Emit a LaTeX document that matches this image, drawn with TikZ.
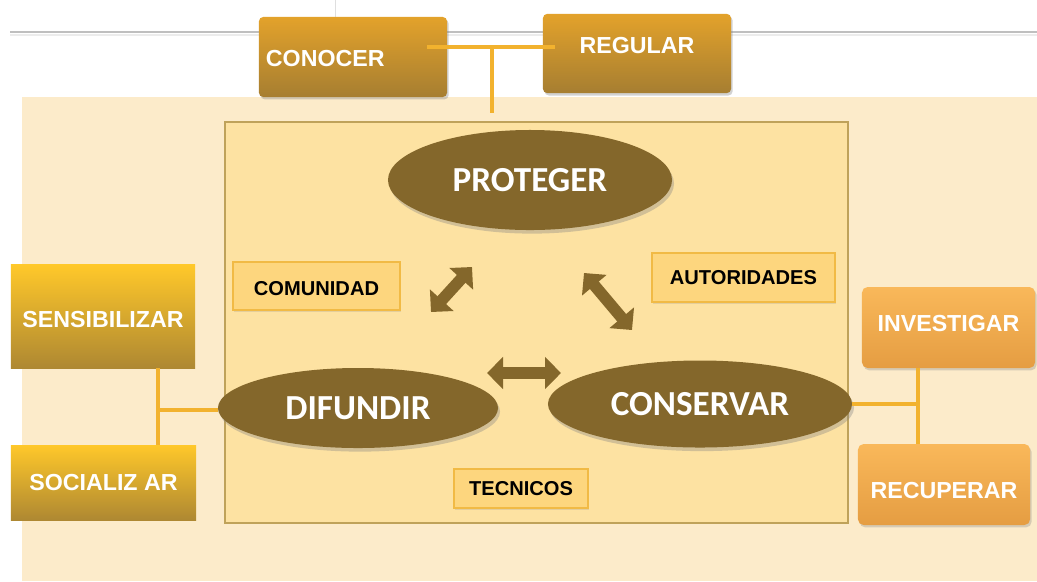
\documentclass[tikz,border=0pt]{standalone}
\usepackage{fontspec}
\setmainfont{Liberation Sans}
\newfontfamily\hubfont{Carlito}
\usetikzlibrary{shapes.geometric, arrows.meta, positioning, calc, shadows}
\definecolor{creamback}{HTML}{FCEBCA}
\definecolor{innerback}{HTML}{FDE2A2}
\definecolor{innerframe}{HTML}{BFA25A}
\definecolor{olive}{HTML}{84672B}
\definecolor{linkgold}{HTML}{F2B22E}
\definecolor{tagfill}{HTML}{FDD67E}
\definecolor{tagframe}{HTML}{F1BA45}
\definecolor{toptop}{HTML}{E3A22B}
\definecolor{topbottom}{HTML}{A67E31}
\definecolor{sidetop}{HTML}{FFC82A}
\definecolor{sidebottom}{HTML}{AE8832}
\definecolor{orangetop}{HTML}{F9B85A}
\definecolor{orangebottom}{HTML}{E59D42}
% baseline of a box text set at a given height from the node centre
\newcommand{\boxtext}[2]{\raisebox{#1}[0pt][0pt]{#2}}
\tikzset{
	topbox/.style={rectangle, rounded corners=3pt, top color=toptop, bottom color=topbottom,
		minimum width=4.7cm, minimum height=2cm, text=white, font=\bfseries\fontsize{16.5}{19}\selectfont,
		drop shadow={shadow xshift=0.4mm, shadow yshift=-0.6mm, opacity=0.35}},
	sidebox/.style={rectangle, top color=sidetop, bottom color=sidebottom,
		text=white, font=\bfseries\fontsize{16.5}{19}\selectfont},
	orangebox/.style={rectangle, rounded corners=4pt, top color=orangetop, bottom color=orangebottom,
		minimum width=4.3cm, minimum height=2.025cm, text=white, font=\bfseries\fontsize{16.5}{19}\selectfont,
		drop shadow={shadow xshift=0.4mm, shadow yshift=-0.6mm, opacity=0.3}},
	tag/.style={rectangle, draw=tagframe, line width=0.8pt, fill=tagfill, text=black,
		font=\bfseries\fontsize{14.3}{17}\selectfont,
		drop shadow={shadow xshift=0.3mm, shadow yshift=-0.4mm, opacity=0.2}},
	hub/.style={ellipse, fill=olive, inner sep=0pt, text=white, font=\hubfont\bfseries\fontsize{25}{28}\selectfont,
		drop shadow={shadow xshift=0.5mm, shadow yshift=-0.9mm, opacity=0.35}},
	link/.style={draw=linkgold, line width=2.6pt},
	bigarrow/.style={draw=olive, line width=0.29cm,
		{Triangle[length=0.4cm, width=0.78cm]}-{Triangle[length=0.4cm, width=0.78cm]}}
}

\begin{document}
\begin{tikzpicture}[x=0.025cm, y=-0.025cm]
	
	\useasboundingbox (0,0) rectangle (1037,581);
	\fill[white] (0,0) rectangle (1037,581);
	
	% page rule behind the top boxes
	\draw[gray!25, line width=0.6pt] (335,0) -- (335,22);
	\draw[gray!50, line width=2pt] (10,32) -- (1037,32);
	\draw[gray!15, line width=1.5pt] (10,35) -- (1037,35);
	
	% Backgrounds
	\fill[creamback] (22,97) rectangle (1037,581);
	\filldraw[fill=innerback, draw=innerframe, line width=0.8pt] (225,122) rectangle (848,523);
	
	% Top boxes
	\node[topbox, text width=4.35cm, inner xsep=0.175cm, align=left] (conocer) at (353,57) {\boxtext{-0.23cm}{CONOCER}};
	\node[topbox, minimum height=1.98cm] (regular) at (637,53.5) {\boxtext{0cm}{REGULAR}};
	
	% Cycle of actions
	\node[hub, minimum width=7.1cm, minimum height=2.5cm] (proteger) at (530,180) {PROTEGER};
	\node[hub, minimum width=7cm, minimum height=2cm] (difundir) at (358,408) {DIFUNDIR};
	\node[hub, minimum width=7.6cm, minimum height=2.175cm] (conservar) at (700,404) {CONSERVAR};
	
	% Actors
	\node[tag, minimum width=4.175cm, minimum height=1.2cm] (comunidad) at (316.5,286) {\boxtext{-0.23cm}{COMUNIDAD}};
	\node[tag, minimum width=4.575cm, minimum height=1.225cm] (autoridades) at (743.5,277.5) {AUTORIDADES};
	\node[tag, minimum width=3.35cm, minimum height=0.975cm] (tecnicos) at (521,488.5) {TECNICOS};
	
	% Left boxes
	\node[sidebox, minimum width=4.6cm, minimum height=2.575cm] (sensibilizar) at (103,316.5) {\boxtext{-0.27cm}{SENSIBILIZAR}};
	\node[sidebox, minimum width=4.625cm, minimum height=1.875cm] (socializar) at (103.5,482.5) {SOCIALIZ AR};
	
	% Right boxes
	\node[orangebox, minimum width=4.325cm] (investigar) at (948.5,327.5) {\boxtext{-0.1cm}{INVESTIGAR}};
	\node[orangebox] (recuperar) at (944,484.5) {\boxtext{-0.35cm}{RECUPERAR}};
	
	% Connectors
	\coordinate (top_joint) at (492,47);
	\coordinate (top_feed) at (492,113);
	\draw[link] ($(conocer.east)+(-20,-10)$) -- ($(regular.west)+(12,-6.5)$);
	\draw[link] (top_joint) -- (top_feed);
	
	\coordinate (left_joint) at (158,410);
	\draw[link] (sensibilizar.south -| left_joint) -- (socializar.north -| left_joint);
	\draw[link] (left_joint) -- (difundir.west |- left_joint);
	
	\coordinate (right_joint) at (918,404);
	\draw[link] (conservar.east) -- (right_joint);
	\draw[link] (investigar.south -| right_joint) -- (recuperar.north -| right_joint);
	
	% Double arrows between the actions
	\coordinate (arrow_left_a) at (431,312);
	\coordinate (arrow_left_b) at (472,267);
	\coordinate (arrow_right_a) at (584,273);
	\coordinate (arrow_right_b) at (632,330);
	\coordinate (arrow_bottom_a) at (487,373);
	\coordinate (arrow_bottom_b) at (561,373);
	\draw[bigarrow] (arrow_left_a) -- (arrow_left_b);
	\draw[bigarrow] (arrow_right_a) -- (arrow_right_b);
	\draw[bigarrow] (arrow_bottom_a) -- (arrow_bottom_b);
	
\end{tikzpicture}
\end{document}
